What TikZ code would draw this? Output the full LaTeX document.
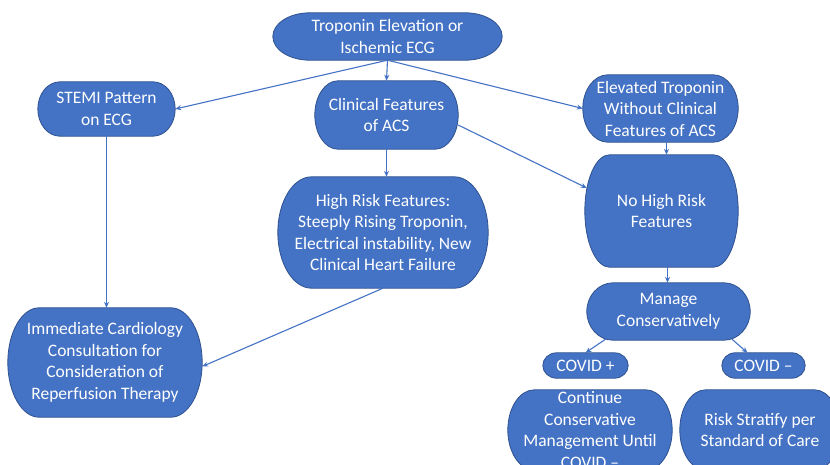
\documentclass[tikz,border=0pt]{standalone}
\usepackage{fontspec}
\setmainfont{Carlito}
\usetikzlibrary{arrows.meta,calc,backgrounds}
\definecolor{boxblue}{HTML}{4472C4}
\definecolor{boxedge}{HTML}{2F528F}
\newcommand\termshape[1]{%
  \path[termfill] let \p1=(#1.south west), \p2=(#1.north east),
    \n1={0.161*(\x2-\x1)}, \n2={0.5*(\y2-\y1)} in
    (\x1+\n1,\y1) -- (\x2-\n1,\y1)
    arc[start angle=-90,end angle=90,x radius=\n1,y radius=\n2]
    -- (\x1+\n1,\y2)
    arc[start angle=90,end angle=270,x radius=\n1,y radius=\n2] -- cycle;}
\tikzset{
  termfill/.style={fill=boxblue,draw=boxedge,line width=0.8pt},
  term/.style={shape=rectangle,inner sep=0pt,align=center,text=white,
    font=\fontsize{17.5}{21.5}\selectfont},
  link/.style={draw=boxblue,line width=1.1pt,-{Stealth[length=6pt,width=5pt]}}
}
\begin{document}
\begin{tikzpicture}[x=1pt,y=1pt]
\useasboundingbox (0,0) rectangle (830,-464);
\node[term,minimum width=229,minimum height=47] (top) at (387.5,-36.5) {Troponin Elevation or\\Ischemic ECG};
\node[term,minimum width=137,minimum height=54] (stemi) at (106.5,-109) {STEMI Pattern\\on ECG};
\node[term,minimum width=143,minimum height=68] (clin) at (386.5,-115) {Clinical Features\\of ACS};
\node[term,minimum width=155,minimum height=67] (elev) at (660.5,-108.5) {Elevated Troponin\\Without Clinical\\Features of ACS};
\node[term,minimum width=153,minimum height=112] (nohigh) at (661.5,-211) {No High Risk\\Features};
\node[term,minimum width=210,minimum height=111] (high) at (383,-232.5) {High Risk Features:\\Steeply Rising Troponin,\\Electrical instability, New\\Clinical Heart Failure};
\node[term,minimum width=194,minimum height=109] (imm) at (105,-362.5) {Immediate Cardiology\\Consultation for\\Consideration of\\Reperfusion Therapy};
\node[term,minimum width=163,minimum height=57] (manage) at (668.5,-311.5) {Manage\\Conservatively};
\node[term,minimum width=85,minimum height=25] (covp) at (585.5,-365.5) {COVID +};
\node[term,minimum width=83,minimum height=25] (covm) at (763.5,-365.5) {COVID –};
\node[term,minimum width=164,minimum height=80] (cont) at (590,-430) {Continue\\Conservative\\Management Until\\COVID –};
\node[term,minimum width=160,minimum height=80] (risk) at (760,-430) {Risk Stratify per\\Standard of Care};
\begin{pgfonlayer}{background}
\foreach \nm in {top,stemi,clin,elev,nohigh,high,imm,manage,covp,covm,cont,risk} {\termshape{\nm}}
\end{pgfonlayer}
\draw[link] (top.south) -- (stemi.east);
\draw[link] (top.south) -- (clin.north);
\draw[link] (top.south) -- (elev.west);
\draw[link] (stemi.south) -- (stemi.south |- imm.north);
\draw[link] (clin.south) -- (clin.south |- high.north);
\draw[link] ([yshift=-10]clin.east) -- ([xshift=2,yshift=23]nohigh.west);
\draw[link] ([xshift=6]elev.south) -- ([xshift=6]elev.south |- nohigh.north);
\draw[link] (high.south) -- ([yshift=-4]imm.east);
\draw[link] ([xshift=6]nohigh.south) -- ([xshift=6]nohigh.south |- manage.north);
\draw[link] ([xshift=-61.5,yshift=2]manage.south) -- (covp.north);
\draw[link] ([xshift=63.5,yshift=1]manage.south) -- ([xshift=-16]covm.north);
\end{tikzpicture}
\end{document}
